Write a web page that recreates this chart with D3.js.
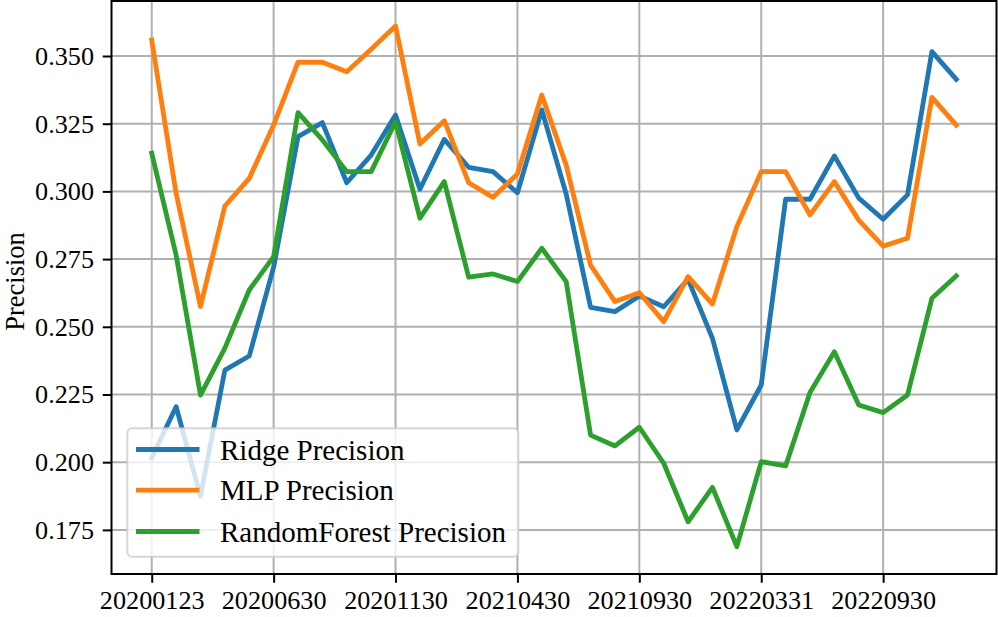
<!DOCTYPE html>
<html>
<head>
<meta charset="utf-8">
<script src="https://cdn.jsdelivr.net/npm/d3@7"></script>
<style>
  html, body { margin: 0; padding: 0; background: #fff; }
  svg { display: block; }
  text { font-family: "Liberation Serif", "Times New Roman", serif; }
</style>
</head>
<body>
<svg id="chart" width="998" height="617"></svg>
<script>
// ---- data ----
const categories = [
  "20200123","20200227","20200331","20200430","20200529",
  "20200630","20200731","20200831","20200930","20201030",
  "20201130","20201231","20210129","20210226","20210331",
  "20210430","20210531","20210630","20210730","20210831",
  "20210930","20211105","20211215","20220120","20220225",
  "20220331","20220510","20220615","20220720","20220825",
  "20220930","20221031","20221130","20221230"
];
const ridge = [
  0.2016,0.2205,0.1875,0.2340,0.2392,0.2720,0.3202,0.3254,0.3032,0.3134,
  0.3282,0.3008,0.3192,0.3089,0.3073,0.2995,0.3301,0.2990,0.2572,0.2556,
  0.2614,0.2574,0.2675,0.2457,0.2119,0.2285,0.2971,0.2971,0.3131,0.2975,
  0.2897,0.2987,0.3516,0.3414
];
const mlp = [
  0.3559,0.2993,0.2575,0.2946,0.3048,0.3245,0.3477,0.3477,0.3442,0.3525,
  0.3611,0.3175,0.3261,0.3032,0.2978,0.3064,0.3356,0.3097,0.2728,0.2593,
  0.2626,0.2519,0.2685,0.2584,0.2870,0.3073,0.3073,0.2913,0.3036,0.2894,
  0.2798,0.2827,0.3347,0.3245
];
const randomForest = [
  0.3141,0.2765,0.2248,0.2421,0.2636,0.2759,0.3291,0.3190,0.3073,0.3073,
  0.3257,0.2901,0.3036,0.2683,0.2695,0.2667,0.2790,0.2667,0.2100,0.2060,
  0.2129,0.1996,0.1780,0.1907,0.1688,0.2002,0.1986,0.2257,0.2408,0.2211,
  0.2183,0.2248,0.2605,0.2688
];
const seriesNames = ["Ridge Precision", "MLP Precision", "RandomForest Precision"];
const seriesColors = ["#1f77b4", "#ff7f0e", "#2ca02c"];
const yTicks = [0.175, 0.200, 0.225, 0.250, 0.275, 0.300, 0.325, 0.350];
const xTickIdx = [0, 5, 10, 15, 20, 25, 30];
const yLabel = "Precision";

// ---- layout ----
const svg = d3.select("#chart");
const L = 111.5, R = 996.5, T = 1, B = 574;
const TICK_FS = 26.2, LABEL_FS = 26.5, LEGEND_FS = 29;
const LW = 4.8;

const x = d3.scaleLinear().domain([-1.65, categories.length - 1 + 1.65]).range([L, R]);
const y = d3.scaleLinear().domain([0.15871, 0.37031]).range([B, T]);

// grid
const grid = svg.append("g");
grid.selectAll("line.gx").data(xTickIdx).join("line")
  .attr("x1", d => x(d)).attr("x2", d => x(d)).attr("y1", T).attr("y2", B)
  .attr("stroke", "#b0b0b0").attr("stroke-width", 2);
grid.selectAll("line.gy").data(yTicks).join("line")
  .attr("y1", d => y(d)).attr("y2", d => y(d)).attr("x1", L).attr("x2", R)
  .attr("stroke", "#b0b0b0").attr("stroke-width", 2);

// lines
const allSeries = [ridge, mlp, randomForest];
const line = d3.line().x((d, i) => x(i)).y(d => y(d));
svg.append("g").selectAll("path").data(allSeries).join("path")
  .attr("d", d => line(d))
  .attr("fill", "none")
  .attr("stroke", (d, i) => seriesColors[i])
  .attr("stroke-width", LW)
  .attr("stroke-linejoin", "round")
  .attr("stroke-linecap", "square");

// axes
const xAxis = d3.axisBottom(x).tickValues(xTickIdx).tickFormat(i => categories[i])
  .tickSize(8.75).tickPadding(8).tickSizeOuter(0);
const yAxis = d3.axisLeft(y).tickValues(yTicks).tickFormat(d3.format(".3f"))
  .tickSize(8.75).tickPadding(8.75).tickSizeOuter(0);

const gx = svg.append("g").attr("transform", `translate(0,${B})`).call(xAxis);
const gy = svg.append("g").attr("transform", `translate(${L},0)`).call(yAxis);
[gx, gy].forEach(g => {
  g.select(".domain").remove();
  g.selectAll(".tick line").attr("stroke", "#000").attr("stroke-width", 2);
  g.selectAll(".tick text").attr("fill", "#000")
    .style("font-family", '"Liberation Serif", serif').style("font-size", TICK_FS + "px");
});

// frame
svg.append("rect").attr("x", L).attr("y", T).attr("width", R - L).attr("height", B - T)
  .attr("fill", "none").attr("stroke", "#000").attr("stroke-width", 2);

// y label
svg.append("text")
  .attr("transform", `translate(23.5,${(T + B) / 2 - 6}) rotate(-90)`)
  .attr("text-anchor", "middle")
  .style("font-size", LABEL_FS + "px")
  .attr("fill", "#000")
  .text(yLabel);

// legend
const lg = svg.append("g");
lg.append("rect").attr("x", 127.3).attr("y", 428.3).attr("width", 391).attr("height", 128.4)
  .attr("rx", 5).attr("ry", 5)
  .attr("fill", "#fff").attr("fill-opacity", 0.8)
  .attr("stroke", "#cccccc").attr("stroke-opacity", 0.8).attr("stroke-width", 2);
const rowY = [449.5, 490.2, 531.5];
seriesNames.forEach((name, i) => {
  lg.append("line").attr("x1", 136).attr("x2", 199.5).attr("y1", rowY[i]).attr("y2", rowY[i])
    .attr("stroke", seriesColors[i]).attr("stroke-width", LW);
  lg.append("text").attr("x", 220).attr("y", rowY[i] + 10)
    .style("font-size", LEGEND_FS + "px").attr("fill", "#000").text(name);
});
</script>
</body>
</html>
